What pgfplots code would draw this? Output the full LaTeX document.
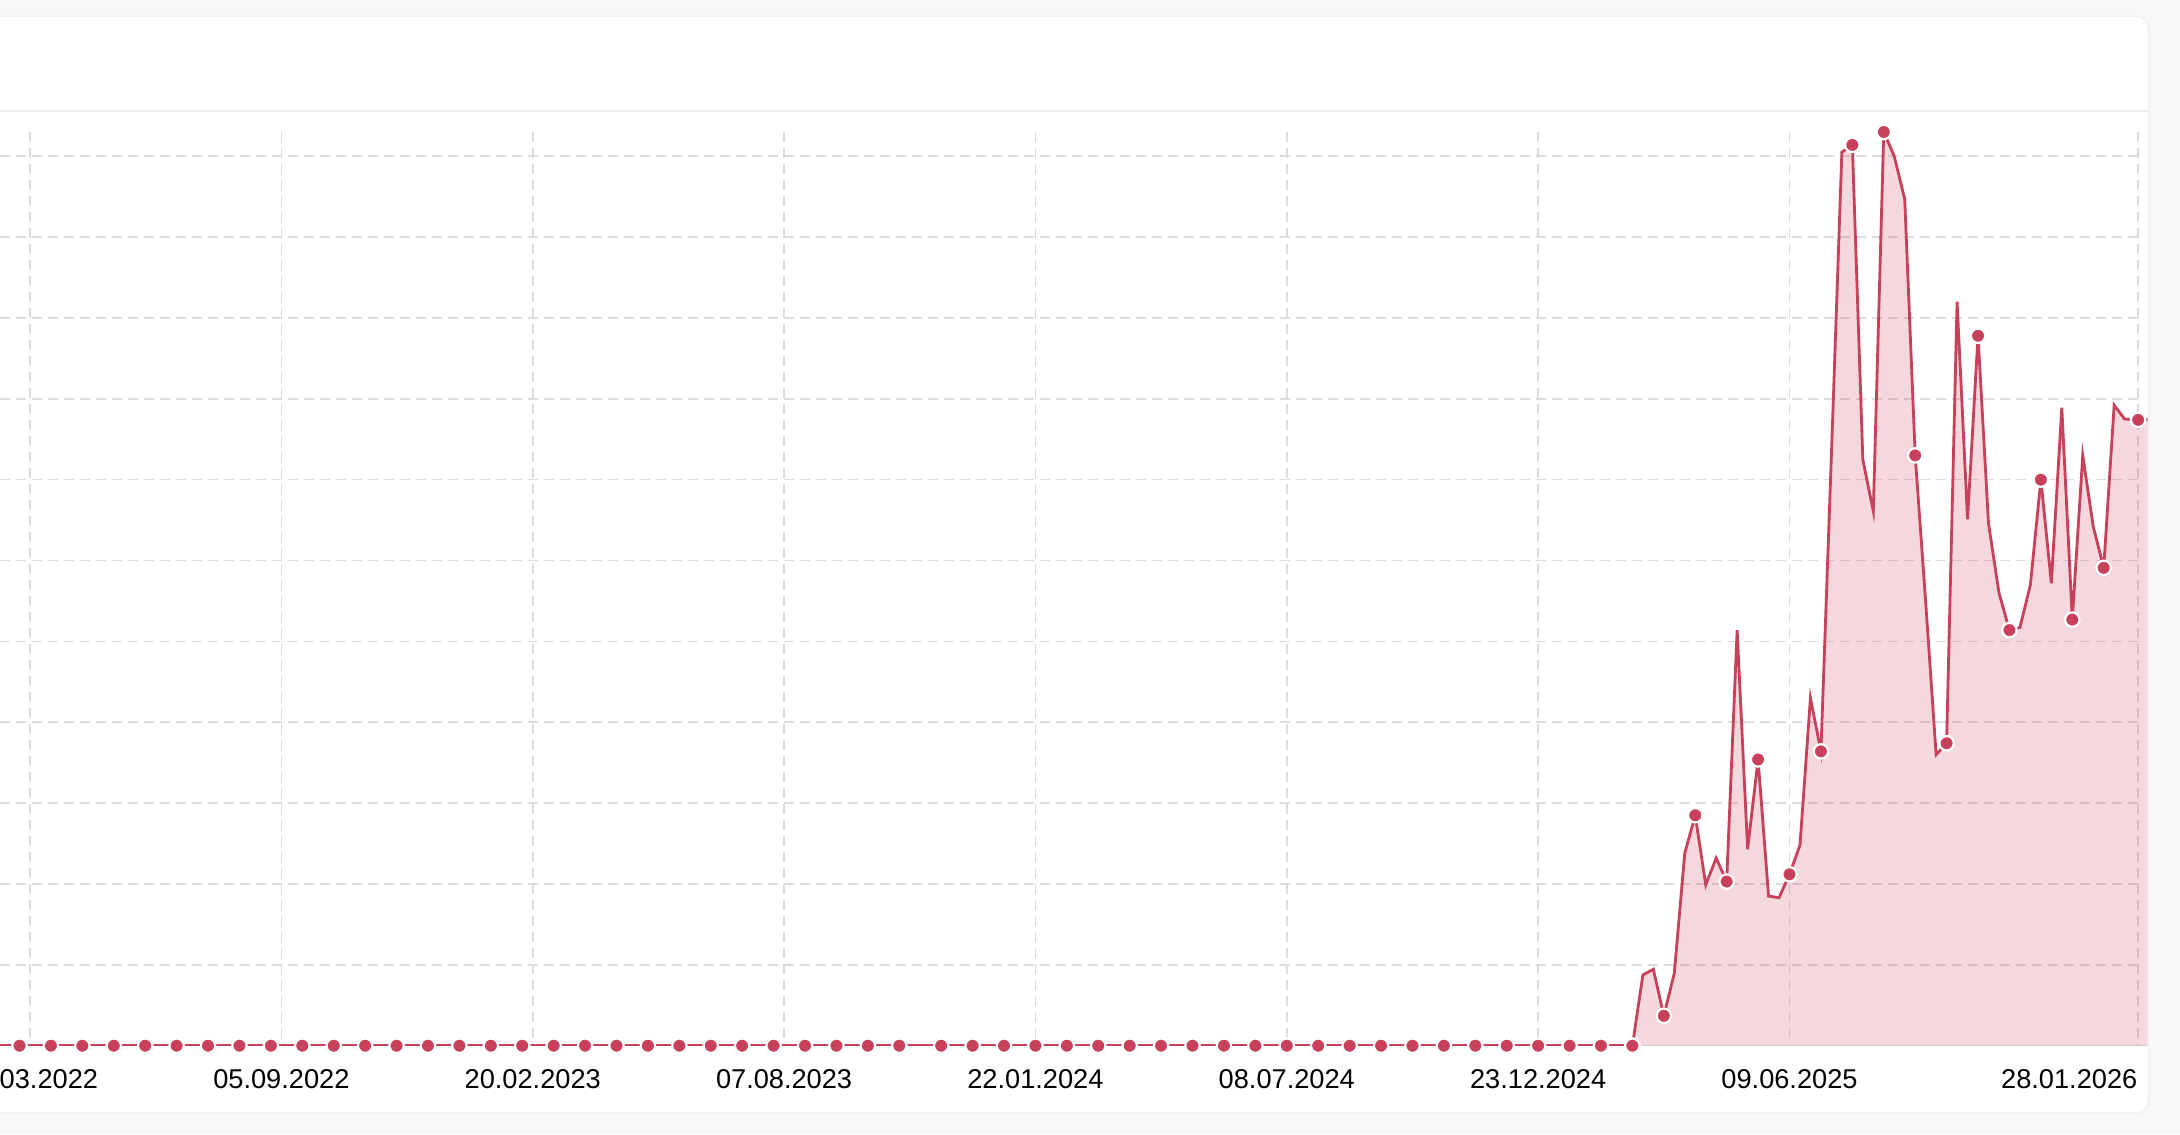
\documentclass[border=0pt]{standalone}
\usepackage{pgfplots}
\pgfplotsset{compat=1.18}
\usepackage{pgfplotstable}
\usepackage{fontspec}
\setmainfont{Liberation Sans}

\definecolor{crim}{RGB}{200,64,90}
\definecolor{gridc}{RGB}{220,220,220}
\definecolor{pagebg}{RGB}{248,248,248}
\definecolor{hdrline}{RGB}{236,236,236}

% days counted from 09.06.2025
% flat part, one marked point every 3 weeks
\pgfplotstableread{
day val
-1204 0
-1183 0
-1162 0
-1141 0
-1120 0
-1099 0
-1078 0
-1057 0
-1036 0
-1015 0
-994 0
-973 0
-952 0
-931 0
-910 0
-889 0
-868 0
-847 0
-826 0
-805 0
-784 0
-763 0
-742 0
-721 0
-700 0
-679 0
-658 0
-637 0
-616 0
-595 0
-567 0
-546 0
-525 0
-504 0
-483 0
-462 0
-441 0
-420 0
-399 0
-378 0
-357 0
-336 0
-315 0
-294 0
-273 0
-252 0
-231 0
-210 0
-189 0
-168 0
-147 0
-126 0
-105 0
}\zerodata

% weekly values since the rise
\pgfplotstableread{
day val
-105 0
-98 0.875
-91 0.945
-84 0.37
-77 0.895
-70 2.38
-63 2.85
-56 1.99
-49 2.32
-42 2.03
-35 5.14
-28 2.43
-21 3.54
-14 1.85
-7 1.83
0 2.12
7 2.48
14 4.30
21 3.64
28 7.3
35 11.05
42 11.14
49 7.25
56 6.61
63 11.30
70 11.0
77 10.47
84 7.30
91 5.49
98 3.60
105 3.74
112 9.20
119 6.51
126 8.78
133 6.46
140 5.60
147 5.14
154 5.17
161 5.70
168 7.00
175 5.72
182 7.89
189 5.27
196 7.30
203 6.42
210 5.91
217 7.92
224 7.75
233 7.74
241 7.74
}\activedata

\begin{document}
\begin{tikzpicture}
\useasboundingbox (0,0) rectangle (545pt,283.5pt);
\clip (0,0) rectangle (545pt,283.5pt);
\fill[pagebg] (0,0) rectangle (545pt,283.5pt);
% card
\fill[black!5, rounded corners=3.5pt] (-10pt,5.0pt) rectangle (537.4pt,279.6pt);
\fill[white, rounded corners=3pt] (-10pt,5.5pt) rectangle (536.875pt,279.3pt);
\draw[hdrline, line width=0.5pt] (-10pt,255.75pt) -- (536.875pt,255.75pt);

\begin{axis}[
    at={(0pt,22.075pt)}, anchor=south west,
    scale only axis,
    width=536.875pt, height=228.425pt,
    xmin=-1196.05, xmax=239.3,
    ymin=0, ymax=11.3,
    axis line style={draw=none},
    tick style={draw=none},
    ytick=\empty,
    xtick={-1176,-1008,-840,-672,-504,-336,-168,0},
    xticklabels={21.03.2022,05.09.2022,20.02.2023,07.08.2023,22.01.2024,08.07.2024,23.12.2024,09.06.2025},
    extra x ticks={233},
    extra x tick labels={28.01.2026},
    extra x tick style={xticklabel style={anchor=base east}},
    xticklabel style={anchor=base, inner sep=0pt, yshift=-10.6pt,
        font=\fontsize{6.8}{8}\selectfont, text=black},
    clip marker paths=false,
]
% grid
\pgfplotsinvokeforeach{1,...,11}{
  \draw[gridc, line width=0.4pt, dash pattern=on 2.5pt off 1.5pt]
    (axis cs:-1196.05,#1) -- (axis cs:233,#1);
}
\pgfplotsinvokeforeach{-1176,-1008,-840,-672,-504,-336,-168,0,233}{
  \draw[gridc, line width=0.4pt, dash pattern=on 2.5pt off 1.5pt]
    (axis cs:#1,11.3) -- (axis cs:#1,0);
}
\draw[gridc, line width=0.4pt] (axis cs:-1196.05,0) -- (axis cs:239.3,0);

\addplot[draw=none, fill=crim, fill opacity=0.2] table[x=day,y=val]{\activedata} \closedcycle;

\addplot[crim, line width=0.7pt, mark=*, mark size=1.8pt,
    mark options={solid, fill=crim, draw=white, line width=0.55pt}]
    table[x=day,y=val]{\zerodata};

\addplot[crim, line width=0.7pt, mark=*, mark size=1.8pt, mark repeat=3,
    mark options={solid, fill=crim, draw=white, line width=0.55pt}]
    table[x=day,y=val]{\activedata};
\end{axis}
\end{tikzpicture}
\end{document}
